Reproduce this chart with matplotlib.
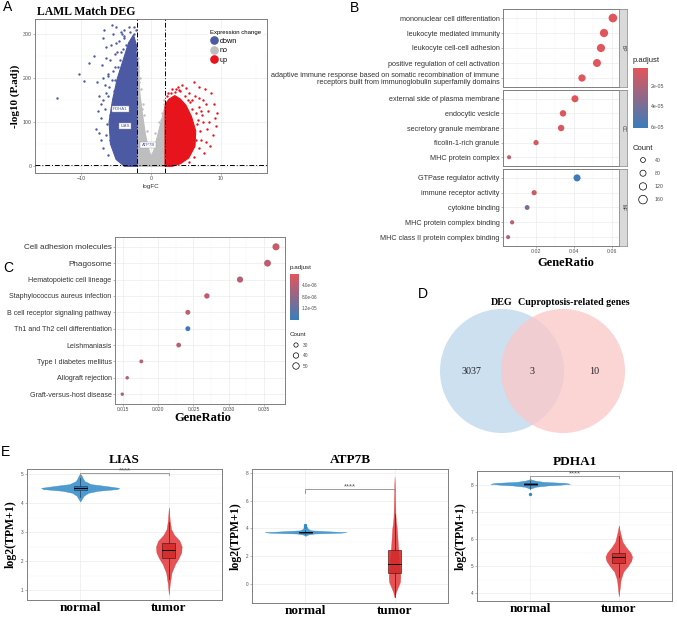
import numpy as np
import matplotlib
matplotlib.use("Agg")
import matplotlib.pyplot as plt
from matplotlib.colors import LinearSegmentedColormap, Normalize
from matplotlib.patches import Circle, Rectangle, Polygon
from matplotlib.lines import Line2D
import matplotlib.cm as cm

plt.rcParams['font.family'] = ['Liberation Sans', 'DejaVu Sans']
SERIF = 'Liberation Serif'

# ---------------------------------------------------------------
# Data
# ---------------------------------------------------------------
# A: volcano plot, dense cores as outlines + scattered points
no_core_fc = [-2, -1.8, -1.6, -1.2, -0.8, -0.4, 0, 0.4, 0.8, 1.2, 1.6, 2, 2, -2]
no_core_p = [215, 240, 165, 115, 72, 42, 22, 35, 60, 85, 110, 135, -1, -1]
down_core_fc = [-2, -2, -2.5, -3.2, -4.0, -4.8, -5.5, -6.0, -5.8, -5.0, -3.8]
down_core_p = [-1, 270, 298, 280, 240, 200, 150, 100, 50, 15, -1]
up_core_fc = [2, 2, 2.6, 3.4, 4.2, 5.0, 5.8, 6.4, 6.3, 5.4, 4.2, 3.0]
up_core_p = [-1, 140, 152, 160, 152, 138, 112, 80, 45, 18, 5, -1]
down_fc = [-13.5, -10.3, -9.6, -8.9, -8.1, -7.7, -7.5, -7.2, -7.4, -7.2, -6.9, -6.7,
           -6.4, -5.6, -5.4, -5.9, -6.2, -5.0, -4.3, -3.9, -3.6, -3.2, -4.8, -6.6,
           -6.0, -5.2, -4.5, -3.0, -2.6, -4.2, -6.3, -5.8, -5.3, -3.4, -2.8, -4.9,
           -7.0, -5.5, -6.8, -5.7, -4.0, -3.3, -2.4, -6.1, -4.6, -3.7, -5.1, -6.5,
           -7.9, -6.9, -4.4, -3.1, -2.2, -5.9, -6.4, -6.6, -7.1, -5.2, -4.1, -3.5,
           -2.9, -2.5, -6.2, -5.4, -4.7, -3.8, -6.8, -7.6, -5.0, -4.3, -3.6, -2.7,
           -6.4, -5.6, -4.9, -6.1, -3.9, -3.0]
down_p = [155, 210, 193, 235, 250, 190, 160, 110, 75, 60, 290, 308,
          270, 320, 300, 240, 210, 315, 305, 290, 275, 315, 260, 130,
          180, 225, 240, 305, 290, 190, 95, 60, 170, 235, 250, 120,
          230, 135, 150, 275, 265, 210, 300, 205, 285, 250, 195, 165,
          85, 40, 215, 280, 310, 115, 70, 185, 140, 255, 300, 265,
          275, 315, 160, 215, 225, 295, 200, 125, 280, 260, 245, 235,
          245, 195, 170, 25, 310, 260]
no_fc = [-1.9, -1.8, -1.7, -1.5, -1.3, -1.0, 1.6, 1.8, 1.4, -1.95, -1.85, -1.6, -1.1,
         -0.6, 0.6, 1.9, 1.2]
no_p = [245, 225, 190, 175, 130, 115, 120, 140, 105, 260, 215, 200, 140, 80, 75, 150, 100]
up_fc = [2.3, 3.0, 3.8, 4.2, 5.0, 5.5, 6.1, 6.9, 7.7, 8.6, 9.0, 9.5, 9.1, 8.3, 8.9,
         6.8, 7.4, 7.0, 6.9, 7.5, 5.8, 4.5, 8.2, 7.9, 6.2, 5.5, 6.5, 7.2, 4.8, 3.4,
         2.6, 6.6, 7.8, 5.3, 8.0, 6.3, 7.3, 2.9, 4.0, 9.3, 6.7, 7.1, 5.9, 6.4, 7.6,
         3.6, 2.4, 5.6, 6.9, 8.4]
up_p = [160, 175, 180, 170, 178, 165, 190, 180, 175, 165, 140, 120, 110, 100, 70,
        135, 150, 80, 40, 100, 150, 185, 125, 55, 20, 8, 120, 60, 160, 168,
        150, 95, 140, 150, 85, 160, 115, 165, 172, 90, 105, 125, 130, 60, 30,
        175, 165, 145, 155, 45]
label_genes = ['PDHA1', 'LIAS', 'ATP7B']
label_fc = [-4.4, -3.7, -0.4]
label_p = [130, 91, 48]
expr_levels = ['down', 'no', 'up']

# B: GO enrichment
bp_terms = ['mononuclear cell differentiation', 'leukocyte mediated immunity',
            'leukocyte cell-cell adhesion', 'positive regulation of cell activation',
            'adaptive immune response based on somatic recombination of immune\n'
            'receptors built from immunoglobulin superfamily domains']
bp_ratio = [0.0605, 0.0558, 0.0542, 0.0521, 0.0442]
bp_count = [163, 150, 146, 140, 119]
bp_padj = [3e-6, 3e-6, 3e-6, 3e-6, 3.5e-6]
cc_terms = ['external side of plasma membrane', 'endocytic vesicle',
            'secretory granule membrane', 'ficolin-1-rich granule', 'MHC protein complex']
cc_ratio = [0.0405, 0.0342, 0.0332, 0.0200, 0.0058]
cc_count = [110, 92, 90, 54, 16]
cc_padj = [4e-6, 5e-6, 5e-6, 7e-6, 1.1e-5]
mf_terms = ['GTPase regulator activity', 'immune receptor activity', 'cytokine binding',
            'MHC protein complex binding', 'MHC class II protein complex binding']
mf_ratio = [0.0416, 0.0190, 0.0153, 0.0074, 0.0053]
mf_count = [112, 51, 41, 20, 14]
mf_padj = [6.0e-5, 1.0e-5, 3.6e-5, 1.6e-5, 2.0e-5]
go_ont = ['BP', 'CC', 'MF']
go_padj_ticks = [2e-5, 4e-5, 6e-5]
go_count_keys = [40, 80, 120, 160]

# C: KEGG enrichment
kegg_terms = ['Cell adhesion molecules', 'Phagosome', 'Hematopoietic cell lineage',
              'Staphylococcus aureus infection', 'B cell receptor signaling pathway',
              'Th1 and Th2 cell differentiation', 'Leishmaniasis',
              'Type I diabetes mellitus', 'Allograft rejection', 'Graft-versus-host disease']
kegg_ratio = [0.0367, 0.0355, 0.0316, 0.0269, 0.0242, 0.0242, 0.0229, 0.0176, 0.0156, 0.0149]
kegg_count = [55, 53, 47, 40, 36, 36, 34, 26, 23, 22]
kegg_padj = [2.5e-6, 3.5e-6, 4e-6, 3.5e-6, 4e-6, 1.55e-5, 4e-6, 4e-6, 4.5e-6, 6e-6]
kegg_padj_ticks = [4e-6, 8e-6, 1.2e-5]
kegg_count_keys = [30, 40, 50]

# D: Venn
venn_sets = ['DEG', 'Cuproptosis-related genes']
venn_counts = [3037, 3, 10]  # DEG only, both, cuproptosis only

# E: violins (profile half-widths) and box stats [lo, q1, med, q3, hi]
genes = ['LIAS', 'ATP7B', 'PDHA1']
lias_n_y = [4.05, 4.15, 4.25, 4.35, 4.42, 4.48, 4.52, 4.58, 4.65, 4.75, 4.85, 4.95, 5.0]
lias_n_w = [0.0, 0.02, 0.04, 0.09, 0.2, 0.42, 0.44, 0.3, 0.12, 0.05, 0.03, 0.015, 0.0]
lias_t_y = [0.85, 1.2, 1.6, 1.9, 2.1, 2.3, 2.5, 2.7, 2.9, 3.1, 3.4, 3.85]
lias_t_w = [0.0, 0.01, 0.03, 0.07, 0.11, 0.14, 0.145, 0.12, 0.06, 0.025, 0.01, 0.0]
lias_n_box = [4.2, 4.45, 4.5, 4.57, 4.85]
lias_t_box = [1.4, 2.12, 2.38, 2.62, 3.35]
atp_n_y = [3.45, 3.55, 3.62, 3.68, 3.72, 3.78, 3.85, 3.95, 4.1, 4.25]
atp_n_w = [0.0, 0.03, 0.1, 0.4, 0.46, 0.25, 0.06, 0.03, 0.015, 0.0]
atp_t_y = [-1.0, -0.6, -0.2, 0.1, 0.5, 1.0, 1.5, 2.0, 2.5, 3.0, 3.5, 4.0, 4.5, 5.0, 6.0, 7.0, 7.7]
atp_t_w = [0.0, 0.015, 0.04, 0.06, 0.065, 0.06, 0.05, 0.045, 0.04, 0.035, 0.03, 0.025,
           0.015, 0.01, 0.006, 0.003, 0.0]
atp_n_box = [3.55, 3.66, 3.71, 3.76, 3.9]
atp_t_box = [-1.0, 0.75, 1.4, 2.45, 5.0]
pdh_n_y = [7.85, 7.92, 7.97, 8.0, 8.03, 8.06, 8.1, 8.15, 8.2]
pdh_n_w = [0.0, 0.06, 0.2, 0.35, 0.45, 0.4, 0.15, 0.05, 0.0]
pdh_t_y = [3.9, 4.2, 4.5, 4.8, 5.0, 5.2, 5.35, 5.5, 5.7, 5.9, 6.1, 6.3, 6.5]
pdh_t_w = [0.0, 0.01, 0.02, 0.05, 0.1, 0.14, 0.15, 0.13, 0.08, 0.04, 0.025, 0.01, 0.0]
pdh_n_box = [7.85, 7.97, 8.02, 8.07, 8.2]
pdh_t_box = [4.6, 5.12, 5.35, 5.5, 6.1]
normal_outliers = [[], [4.25, 4.12], [7.65]]
sig_y = [5.02, 6.82, 8.3]
groups = ['normal', 'tumor']

# ---------------------------------------------------------------
# Layout helpers (pixel boxes of the 677x620 canvas)
# ---------------------------------------------------------------
W, H = 677, 620
fig = plt.figure(figsize=(W / 100, H / 100), dpi=100)

COL_DOWN, COL_NO, COL_UP = '#4B5AA3', '#BEBEBE', '#E8141B'
GRID = '#EBEBEB'
cmap = LinearSegmentedColormap.from_list('padj', ['#E2555A', '#3A7DBA'])


def rect(x0, y0, x1, y1):
    return [x0 / W, 1 - y1 / H, (x1 - x0) / W, (y1 - y0) / H]


def ftext(x, y, s, **kw):
    fig.text(x / W, 1 - y / H, s, **kw)


def pix_axes(x0, y0, x1, y1):
    ax = fig.add_axes(rect(x0, y0, x1, y1))
    ax.set_xlim(x0, x1)
    ax.set_ylim(y1, y0)
    ax.axis('off')
    return ax


def gg_style(ax, size=3.8):
    for s in ax.spines.values():
        s.set_color('#7F7F7F')
        s.set_linewidth(0.7)
    ax.tick_params(labelsize=size, labelcolor='#4D4D4D', color='#7F7F7F',
                   length=1.5, width=0.4, pad=1)
    ax.tick_params(which='minor', length=0)
    ax.grid(True, which='major', color=GRID, lw=0.5)
    ax.grid(True, which='minor', color='#F4F4F4', lw=0.3)
    ax.set_axisbelow(True)


def go_size(c):
    return (0.72 * (3.6 + 0.031 * np.asarray(c))) ** 2


def kegg_size(c):
    return (0.72 * (1.0 + 0.11 * np.asarray(c))) ** 2


# panel letters
for letter, (x, y) in zip('ABCDE', [(8, 7), (354, 8), (8, 268), (423, 294), (6, 452)]):
    ftext(x, y, letter, fontsize=10, ha='center', va='center')

# ---------------------------------------------------------------
# A: volcano
# ---------------------------------------------------------------
axA = fig.add_axes(rect(35, 19, 267, 173))
gg_style(axA)
axA.set_xlim(-16.6, 16.6)
axA.set_ylim(-16, 334)
axA.set_xticks([-10, 0, 10])
axA.set_xticks([-15, -5, 5, 15], minor=True)
axA.set_yticks([0, 100, 200, 300])
axA.set_yticks([50, 150, 250], minor=True)
for xs, ys, col in [(no_core_fc, no_core_p, COL_NO), (down_core_fc, down_core_p, COL_DOWN),
                    (up_core_fc, up_core_p, COL_UP)]:
    axA.add_patch(Polygon(np.column_stack([xs, ys]), closed=True, fc=col, ec=col,
                          lw=0.8, zorder=2))
axA.scatter(no_fc, no_p, s=3, color=COL_NO, lw=0, zorder=3)
axA.scatter(down_fc, down_p, s=3, color=COL_DOWN, lw=0, zorder=3)
axA.scatter(up_fc, up_p, s=3, color=COL_UP, lw=0, zorder=3)
for v in (-2, 2):
    axA.axvline(v, color='black', lw=0.7, ls=(0, (5, 2, 1, 2)), zorder=4)
axA.axhline(-np.log10(0.05), color='black', lw=0.7, ls=(0, (5, 2, 1, 2)), zorder=4)
for g, fc, p in zip(label_genes, label_fc, label_p):
    axA.text(fc, p, g, fontsize=3.2, color='#4B5AA3', ha='center', va='center', zorder=5,
             bbox=dict(boxstyle='square,pad=0.25', fc='white', ec='#9A9A9A', lw=0.3))
handles = [Line2D([], [], marker='o', ls='', color=c, markersize=5.2)
           for c in (COL_DOWN, COL_NO, COL_UP)]
leg = axA.legend(handles, expr_levels, title='Expression change', loc='upper right',
                 bbox_to_anchor=(1.0, 0.965), fontsize=5.2, title_fontsize=4.3,
                 handletextpad=0.3, labelspacing=0.35, borderpad=0.3, handlelength=1.0,
                 framealpha=1)
leg.get_frame().set_edgecolor('none')
leg._legend_box.align = 'left'
axA.set_ylabel('-log10 (P.adj)', fontfamily=SERIF, fontweight='bold', fontsize=8, labelpad=2)
axA.set_xlabel('logFC', fontsize=4.5, labelpad=1.5, color='#333333')
ftext(37, 12, 'LAML Match DEG', fontfamily=SERIF, fontweight='bold', fontsize=8.5,
      ha='left', va='center')

# ---------------------------------------------------------------
# B: GO dot plot, three facets
# ---------------------------------------------------------------
go_norm = Normalize(2.4e-6, 6.1e-5)
facets = [(bp_terms, bp_ratio, bp_count, bp_padj, 9, 87),
          (cc_terms, cc_ratio, cc_count, cc_padj, 90, 166),
          (mf_terms, mf_ratio, mf_count, mf_padj, 169, 246)]
for k, (terms, ratio, count, padj, top, bot) in enumerate(facets):
    ax = fig.add_axes(rect(503, top, 619, bot))
    gg_style(ax, size=3.8)
    n = len(terms)
    ypos = np.arange(n)[::-1] + 1
    ax.scatter(ratio, ypos, s=go_size(count), c=padj, cmap=cmap, norm=go_norm, lw=0, zorder=3)
    ax.set_xlim(0.0026, 0.0637)
    ax.set_ylim(0.4, n + 0.6)
    ax.set_yticks(ypos)
    ax.set_yticklabels(terms, fontsize=5.2, color='#333333', linespacing=1.0)
    ax.set_xticks([0.02, 0.04, 0.06])
    ax.set_xticks([0.01, 0.03, 0.05], minor=True)
    if k < 2:
        ax.tick_params(axis='x', labelbottom=False, length=0)
    else:
        ax.set_xticklabels(['0.02', '0.04', '0.06'])
    sax = fig.add_axes(rect(619, top, 627, bot))
    sax.set_facecolor('#D9D9D9')
    sax.set_xticks([])
    sax.set_yticks([])
    for s in sax.spines.values():
        s.set_color('#7F7F7F')
        s.set_linewidth(0.5)
    sax.text(0.5, 0.5, go_ont[k], rotation=-90, fontsize=3.5, color='#333333',
             ha='center', va='center', transform=sax.transAxes)
ftext(566, 263, 'GeneRatio', fontfamily=SERIF, fontweight='bold', fontsize=9,
      ha='center', va='center')

cax = fig.add_axes(rect(633, 68, 648, 128))
cb = fig.colorbar(cm.ScalarMappable(norm=go_norm, cmap=cmap), cax=cax)
cax.invert_yaxis()
cb.set_ticks(go_padj_ticks)
cb.set_ticklabels(['2e-05', '4e-05', '6e-05'])
cb.outline.set_visible(False)
cax.tick_params(labelsize=3.8, length=0, pad=2, labelcolor='#4D4D4D')
ftext(633, 61, 'p.adjust', fontsize=5.5, ha='left', va='center', color='#222222')

ftext(633, 149, 'Count', fontsize=5.5, ha='left', va='center', color='#222222')
lgB = pix_axes(633, 152, 677, 208)
key_y = 160 + 13.2 * np.arange(len(go_count_keys))
lgB.scatter(np.full(len(go_count_keys), 643), key_y, s=go_size(go_count_keys),
            facecolor='none', edgecolor='black', lw=0.5, clip_on=False)
for yk, c in zip(key_y, go_count_keys):
    lgB.text(655, yk, str(c), fontsize=3.8, va='center', ha='left', color='#4D4D4D')

# ---------------------------------------------------------------
# C: KEGG dot plot
# ---------------------------------------------------------------
kegg_norm = Normalize(1e-7, 1.6e-5)
axC = fig.add_axes(rect(115, 237, 285, 404))
gg_style(axC, size=3.5)
nk = len(kegg_terms)
yk_pos = np.arange(nk)[::-1] + 1
axC.scatter(kegg_ratio, yk_pos, s=kegg_size(kegg_count), c=kegg_padj, cmap=cmap,
            norm=kegg_norm, lw=0, zorder=3)
axC.set_xlim(0.01387, 0.03798)
axC.set_ylim(0.4, nk + 0.6)
axC.set_yticks(yk_pos)
axC.set_yticklabels(kegg_terms, fontsize=5.1, color='#333333')
for i, t in enumerate(axC.get_yticklabels()):
    if i < 2:
        t.set_fontsize(5.9)
axC.set_xticks([0.015, 0.020, 0.025, 0.030, 0.035])
axC.set_xticklabels(['0.015', '0.020', '0.025', '0.030', '0.035'])
axC.set_xticks([0.0175, 0.0225, 0.0275, 0.0325, 0.0375], minor=True)
ftext(203, 418, 'GeneRatio', fontfamily=SERIF, fontweight='bold', fontsize=9,
      ha='center', va='center')

caxC = fig.add_axes(rect(290, 274, 299, 320))
cbC = fig.colorbar(cm.ScalarMappable(norm=kegg_norm, cmap=cmap), cax=caxC)
caxC.invert_yaxis()
cbC.set_ticks(kegg_padj_ticks)
cbC.set_ticklabels(['4.0e-06', '8.0e-06', '1.2e-05'])
cbC.outline.set_visible(False)
caxC.tick_params(labelsize=3.3, length=0, pad=2, labelcolor='#4D4D4D')
ftext(290, 268, 'p.adjust', fontsize=4.5, ha='left', va='center', color='#222222')
ftext(290, 335, 'Count', fontsize=4.5, ha='left', va='center', color='#222222')
lgC = pix_axes(288, 338, 330, 374)
kc_y = 345 + 10.5 * np.arange(len(kegg_count_keys))
lgC.scatter(np.full(len(kegg_count_keys), 296), kc_y, s=kegg_size(kegg_count_keys),
            facecolor='none', edgecolor='black', lw=0.5, clip_on=False)
for yk, c in zip(kc_y, kegg_count_keys):
    lgC.text(303, yk, str(c), fontsize=3.5, va='center', ha='left', color='#4D4D4D')

# ---------------------------------------------------------------
# D: Venn
# ---------------------------------------------------------------
axD = pix_axes(420, 285, 677, 440)
cxL, cxR, cy, r = 502, 563, 371, 62
axD.add_patch(Circle((cxL, cy), r, fc='#CCE0F0', ec='none'))
axD.add_patch(Circle((cxR, cy), r, fc='#FAC8C8', ec='none', alpha=0.78))
axD.text(cxL, 303, venn_sets[0], fontfamily=SERIF, fontweight='bold', fontsize=7.2,
         ha='center', va='center')
axD.text(cxR + 11, 303, venn_sets[1], fontfamily=SERIF, fontweight='bold', fontsize=7.2,
         ha='center', va='center')
for xv, v in zip([cxL - 31, (cxL + cxR) / 2, cxR + 31], venn_counts):
    axD.text(xv, cy + 1, str(v), fontfamily=SERIF, fontsize=7.2, ha='center', va='center',
             color='#222222')

# ---------------------------------------------------------------
# E: violins
# ---------------------------------------------------------------
COL_N, COL_T = '#2F8AC6', '#E0282A'
profiles = [(lias_n_y, lias_n_w, lias_t_y, lias_t_w, lias_n_box, lias_t_box),
            (atp_n_y, atp_n_w, atp_t_y, atp_t_w, atp_n_box, atp_t_box),
            (pdh_n_y, pdh_n_w, pdh_t_y, pdh_t_w, pdh_n_box, pdh_t_box)]
boxes = [(27, 469, 222, 600), (252, 469, 448, 603), (477, 471, 672, 601)]
ylims = [(0.66, 5.17), (-1.4, 8.28), (3.72, 8.5)]
yticks = [[1, 2, 3, 4, 5], [0, 2, 4, 6, 8], [4, 5, 6, 7, 8]]


def draw_box(ax, pos, stats, hw, face, edge):
    lo, q1, med, q3, hi = stats
    ax.plot([pos, pos], [lo, q1], color=edge, lw=0.5, zorder=3)
    ax.plot([pos, pos], [q3, hi], color=edge, lw=0.5, zorder=3)
    ax.add_patch(Rectangle((pos - hw, q1), 2 * hw, q3 - q1, fc=face, ec=edge, lw=0.5,
                           zorder=3, alpha=0.9))
    ax.plot([pos - hw, pos + hw], [med, med], color='black', lw=0.7, zorder=4)


for i, gene in enumerate(genes):
    ny, nw, ty, tw, nbox, tbox = profiles[i]
    ax = fig.add_axes(rect(*boxes[i]))
    gg_style(ax, size=3.3)
    ax.set_xlim(0.4, 2.6)
    ax.set_ylim(*ylims[i])
    ax.set_yticks(yticks[i])
    ax.set_yticks(np.array(yticks[i][:-1]) + (yticks[i][1] - yticks[i][0]) / 2, minor=True)
    ax.set_xticks([1, 2])
    ax.set_xticklabels(groups, fontfamily=SERIF, fontweight='bold', fontsize=9.5,
                       color='black')
    ax.tick_params(axis='x', length=0, pad=1.5)
    ax.fill_betweenx(ny, 1 - np.array(nw), 1 + np.array(nw), color=COL_N, alpha=0.85,
                     lw=0.3, zorder=2)
    ax.fill_betweenx(ty, 2 - np.array(tw), 2 + np.array(tw), color=COL_T, alpha=0.8,
                     lw=0.3, zorder=2)
    draw_box(ax, 1, nbox, 0.075, '#2E74AE', '#1F3F60')
    draw_box(ax, 2, tbox, 0.072, '#D42A2A', '#5A1010')
    if normal_outliers[i]:
        ax.scatter(np.ones(len(normal_outliers[i])), normal_outliers[i], s=6,
                   color=COL_N, lw=0, zorder=3)
    ys = sig_y[i]
    d = (ylims[i][1] - ylims[i][0]) * 0.03
    ax.plot([1, 1, 2, 2], [ys - d, ys, ys, ys - d * 0.4], color='#8C8C8C', lw=0.6, zorder=5)
    ax.text(1.5, ys - d * 0.3, '****', ha='center', va='bottom', fontsize=5.5,
            color='#555555', zorder=5)
    ax.set_ylabel('log2(TPM+1)', fontfamily=SERIF, fontweight='bold', fontsize=8.5,
                  labelpad=3)
    ax.set_title(gene, fontfamily=SERIF, fontweight='bold', fontsize=9.5, pad=4)

fig.savefig('out.png', dpi=100)
